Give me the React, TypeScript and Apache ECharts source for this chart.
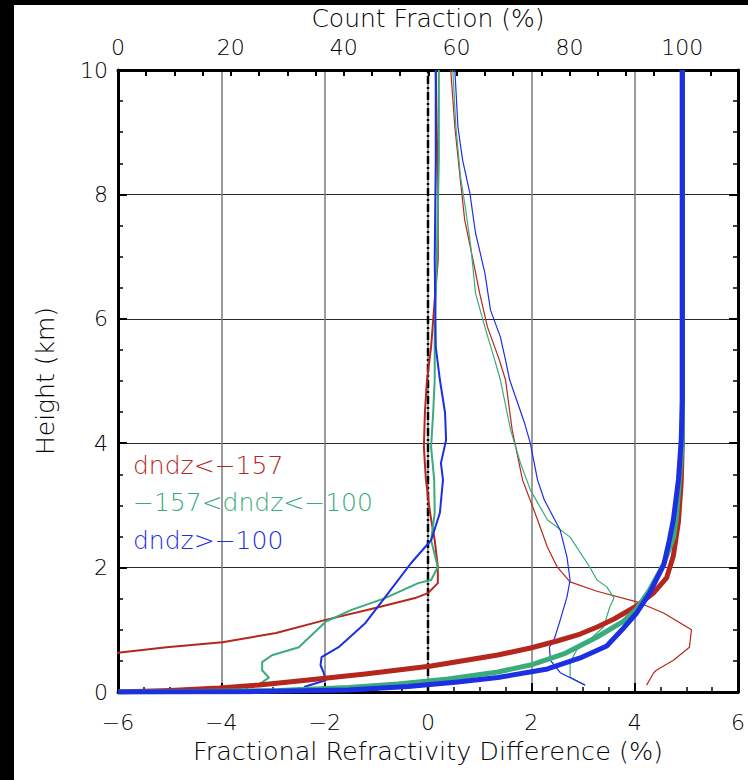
import React, { useEffect, useRef } from "react";
import * as echarts from "echarts";

const RED = "#b5271d";
const GREEN = "#3aab7b";
const BLUE = "#1c2fe3";
const FONT = "DejaVu Sans";
const FW = 200;

// ---- Count fraction (%) against height (km), top axis ----
const redCountPct = [0, 9.15, 18.0, 25.0, 32.0, 43.8, 55.5, 67.3, 73.1, 77.8, 81.9, 84.9, 87.9, 91.9, 94.9, 97.2, 98.4, 99.3, 99.8, 100, 100];
const redCountH = [0, 0.024, 0.064, 0.113, 0.177, 0.289, 0.418, 0.595, 0.707, 0.82, 0.932, 1.045, 1.174, 1.383, 1.592, 1.833, 2.186, 2.733, 3.376, 4.05, 10];

const greenCountPct = [0, 14.4, 28.5, 40.8, 49.6, 58.5, 67.3, 73.1, 79.0, 84.9, 89.6, 91.9, 94.2, 96.7, 98.4, 98.9, 99.5, 100, 100];
const greenCountH = [0, 0.008, 0.024, 0.072, 0.129, 0.209, 0.322, 0.434, 0.611, 0.884, 1.141, 1.334, 1.64, 2.058, 2.476, 2.765, 3.408, 4.05, 10];

const blueCountPct = [0, 23.2, 40.8, 51.4, 60.2, 67.3, 76.1, 81.9, 86.6, 89.6, 91.9, 94.2, 96.7, 97.7, 98.4, 99.3, 99.8, 100, 100];
const blueCountH = [0, 0.005, 0.032, 0.088, 0.161, 0.233, 0.37, 0.547, 0.74, 1.03, 1.27, 1.59, 2.042, 2.444, 2.765, 3.408, 4.05, 4.69, 10];

// ---- Mean fractional refractivity difference (%) ----
const redMeanX = [-6.6, -6.0, -5.06, -3.98, -2.94, -1.98, -1.02, -0.25, 0.0, 0.19, 0.19, 0.13, 0.04, -0.04, -0.08, -0.06, -0.02, 0.06, 0.19, 0.19, 0.15];
const redMeanH = [0.55, 0.63, 0.72, 0.8, 0.95, 1.16, 1.35, 1.51, 1.59, 1.75, 2.01, 2.44, 2.88, 3.41, 3.94, 4.49, 5.02, 5.55, 6.95, 8.02, 10];

const greenMeanX = [-3.31, -3.08, -3.21, -3.21, -3.02, -2.5, -1.98, -1.48, -0.83, -0.19, 0.06, 0.19, 0.06, 0.13, 0.12, 0.06, 0.1, 0.13, 0.13, 0.17, 0.21, 0.21];
const greenMeanH = [0.1, 0.23, 0.35, 0.48, 0.59, 0.72, 1.13, 1.32, 1.51, 1.75, 1.8, 2.01, 2.44, 2.88, 3.41, 3.94, 4.49, 5.02, 5.87, 6.95, 8.55, 10];

const blueMeanX = [-2.4, -1.98, -2.02, -2.08, -2.06, -1.73, -1.21, -0.77, -0.33, 0.06, 0.23, 0.29, 0.25, 0.35, 0.33, 0.23, 0.15, 0.13, 0.15, 0.15];
const blueMeanH = [0.08, 0.19, 0.31, 0.43, 0.56, 0.72, 1.11, 1.59, 2.07, 2.44, 2.88, 3.41, 3.68, 4.05, 4.49, 5.02, 5.55, 6.95, 8.55, 10];

// ---- Spread of fractional refractivity difference (%) ----
const redSdX = [0.44, 0.52, 0.62, 0.71, 0.87, 1.0, 1.15, 1.38, 1.5, 1.63, 1.83, 2.12, 2.31, 2.5, 2.75, 3.27, 4.04, 4.56, 5.1, 5.06, 4.75, 4.42, 4.37, 4.23];
const redSdH = [10, 9.08, 8.28, 7.59, 6.95, 6.41, 5.87, 5.34, 5.02, 4.21, 3.41, 2.77, 2.33, 2.01, 1.77, 1.62, 1.45, 1.27, 1.0, 0.72, 0.51, 0.35, 0.31, 0.11];

const greenSdX = [0.48, 0.54, 0.63, 0.73, 0.83, 0.92, 1.1, 1.29, 1.4, 1.6, 1.79, 1.98, 2.31, 2.75, 3.13, 3.27, 3.46, 3.6, 3.52, 3.4, 3.13, 2.88, 2.75, 2.75, 3.04];
const greenSdH = [10, 9.08, 8.28, 7.75, 7.15, 6.41, 5.87, 5.34, 5.02, 4.21, 3.68, 3.25, 2.77, 2.49, 2.01, 1.8, 1.69, 1.51, 1.37, 1.05, 0.84, 0.68, 0.47, 0.24, 0.11];

const blueSdX = [0.52, 0.58, 0.67, 0.81, 0.92, 1.1, 1.21, 1.4, 1.5, 1.58, 1.87, 1.98, 2.12, 2.25, 2.56, 2.69, 2.75, 2.69, 2.56, 2.44, 2.35, 2.37, 2.56, 3.04];
const blueSdH = [10, 9.08, 8.55, 8.02, 7.38, 6.74, 6.14, 5.71, 5.34, 5.02, 4.32, 4.0, 3.41, 3.09, 2.6, 2.17, 1.8, 1.53, 1.16, 0.84, 0.72, 0.51, 0.31, 0.11];

const legendLabels = ["dndz<\u2212157", "\u2212157<dndz<\u2212100", "dndz>\u2212100"];
const legendColors = [RED, GREEN, BLUE];

const zip = (xs: number[], ys: number[]) => xs.map((x, i) => [x, ys[i]]);

const line = (data: number[][], color: string, width: number, xAxisIndex: number, z: number) => ({
  type: "line",
  xAxisIndex,
  yAxisIndex: 0,
  data,
  symbol: "none",
  showSymbol: false,
  clip: true,
  silent: true,
  z,
  lineStyle: { color, width, join: "round", cap: "butt" },
});

export default function App() {
  const ref = useRef<HTMLDivElement>(null);
  useEffect(() => {
    if (!ref.current) return;
    const chart = echarts.init(ref.current, null, { renderer: "svg" });
    const tickStyle = { color: "#000", width: 2 };
    const nameStyle = { fontSize: 25, color: "#000", fontFamily: FONT, fontWeight: FW };
    const labelStyle = { fontSize: 22, color: "#000", fontFamily: FONT, fontWeight: FW };
    chart.setOption({
      animation: false,
      backgroundColor: "#fff",
      textStyle: { fontFamily: FONT },
      grid: { left: 118, top: 70, width: 624, height: 622, containLabel: false },
      xAxis: [
        {
          type: "value",
          position: "bottom",
          min: -6,
          max: 6,
          interval: 2,
          name: "Fractional Refractivity Difference (%)",
          nameLocation: "middle",
          nameGap: 46,
          nameTextStyle: { ...nameStyle, fontSize: 25.5 },
          axisLine: { show: true, onZero: false, lineStyle: { color: "#000", width: 3 } },
          axisTick: { show: true, inside: true, length: 9, lineStyle: tickStyle },
          minorTick: { show: true, splitNumber: 4, length: 5, lineStyle: { color: "#000", width: 1.5 } },
          axisLabel: { ...labelStyle, margin: 19, formatter: (v: number) => String(v).replace("-", "\u2212") },
          splitLine: { show: true, lineStyle: { color: "#7a7a7a", width: 1.5 } },
        },
        {
          type: "value",
          position: "top",
          min: 0,
          max: 109.86,
          interval: 5,
          name: "Count Fraction (%)",
          nameLocation: "middle",
          nameGap: 34,
          nameTextStyle: nameStyle,
          axisLine: { show: true, onZero: false, lineStyle: { color: "#000", width: 3 } },
          axisTick: { show: true, inside: true, length: 6, lineStyle: tickStyle },
          axisLabel: {
            ...labelStyle,
            margin: 12,
            formatter: (v: number) => (Math.abs(v % 20) < 1e-6 ? String(v) : ""),
          },
          splitLine: { show: false },
        },
      ],
      yAxis: [
        {
          type: "value",
          position: "left",
          min: 0,
          max: 10,
          interval: 2,
          name: "Height (km)",
          nameLocation: "middle",
          nameGap: 60,
          nameRotate: 90,
          nameTextStyle: nameStyle,
          axisLine: { show: true, onZero: false, lineStyle: { color: "#000", width: 3 } },
          axisTick: { show: true, inside: true, length: 9, lineStyle: tickStyle },
          minorTick: { show: true, splitNumber: 4, length: 5, lineStyle: { color: "#000", width: 1.5 } },
          axisLabel: { ...labelStyle, margin: 10 },
          splitLine: { show: true, lineStyle: { color: "#2a2a2a", width: 1.2 } },
        },
        {
          type: "value",
          position: "right",
          min: 0,
          max: 10,
          interval: 2,
          axisLine: { show: true, onZero: false, lineStyle: { color: "#000", width: 3 } },
          axisTick: { show: true, inside: true, length: 9, lineStyle: tickStyle },
          minorTick: { show: true, splitNumber: 4, length: 5, lineStyle: { color: "#000", width: 1.5 } },
          axisLabel: { show: false },
          splitLine: { show: false },
        },
      ],
      series: [
        {
          type: "line",
          xAxisIndex: 0,
          yAxisIndex: 0,
          data: [[0, 0], [0, 10]],
          symbol: "none",
          silent: true,
          z: 2,
          lineStyle: { color: "#000", width: 2.5, type: [8, 3, 2, 3] },
        },
        line(zip(redSdX, redSdH), RED, 1.2, 0, 3),
        line(zip(greenSdX, greenSdH), GREEN, 1.2, 0, 3),
        line(zip(blueSdX, blueSdH), BLUE, 1.2, 0, 3),
        line(zip(redMeanX, redMeanH), RED, 2, 0, 4),
        line(zip(greenMeanX, greenMeanH), GREEN, 2, 0, 4),
        line(zip(blueMeanX, blueMeanH), BLUE, 2, 0, 4),
        line(zip(redCountPct, redCountH), RED, 5, 1, 5),
        line(zip(greenCountPct, greenCountH), GREEN, 5, 1, 5),
        line(zip(blueCountPct, blueCountH), BLUE, 5, 1, 5),
      ],
      graphic: [
        ...legendLabels.map((t, i) => ({
          type: "text",
          x: 133,
          y: 465 + i * 37.5,
          z: 20,
          style: { text: t, fill: legendColors[i], fontSize: 25, fontFamily: FONT, fontWeight: FW, verticalAlign: "middle", align: "left" },
        })),
        { type: "rect", z: 30, shape: { x: 0, y: 0, width: 14, height: 780 }, style: { fill: "#000" } },
        { type: "rect", z: 30, shape: { x: 0, y: 0, width: 748, height: 5 }, style: { fill: "#000" } },
      ],
    });
    return () => chart.dispose();
  }, []);
  return <div ref={ref} style={{ position: "fixed", left: 0, top: 0, width: 748, height: 780 }} />;
}
